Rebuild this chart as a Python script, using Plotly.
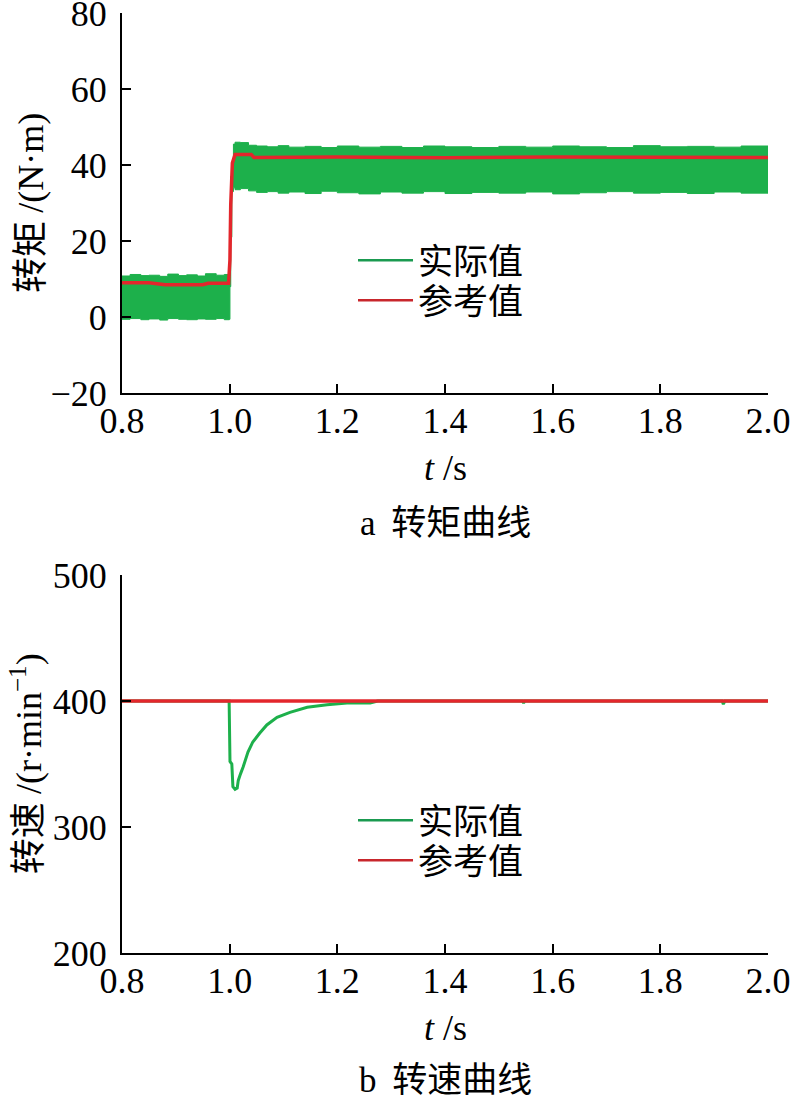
import plotly.graph_objects as go

# ---------------- data ----------------
# Torque: actual value (green noisy band, upper/lower envelope)
t_band = [0.800, 0.815, 0.835, 0.850, 0.870, 0.885, 0.905, 0.920, 0.940, 0.955, 0.975, 0.990, 0.9995,
          1.0005, 1.002, 1.004, 1.007, 1.010, 1.020, 1.035, 1.050, 1.070, 1.090, 1.110, 1.140, 1.170,
          1.200, 1.240, 1.280, 1.320, 1.360, 1.400, 1.450, 1.500, 1.550, 1.600, 1.650, 1.700, 1.750,
          1.800, 1.850, 1.900, 1.950, 2.000]
torque_upper = [10.8, 11.2, 10.9, 11.0, 10.7, 11.3, 10.9, 11.1, 10.8, 11.4, 11.0, 11.2, 10.9,
                28.0, 37.0, 41.0, 45.5, 46.0, 45.9, 45.2, 45.0, 44.8, 45.1, 44.7, 44.9, 44.6,
                45.0, 44.7, 44.9, 44.6, 45.0, 44.8, 44.6, 44.9, 44.7, 45.0, 44.8, 44.6, 45.1,
                44.8, 44.9, 44.7, 45.0, 44.8]
torque_lower = [-0.6, -0.4, -0.7, -0.5, -0.8, -0.4, -0.6, -0.7, -0.5, -0.6, -0.4, -0.7, -0.6,
                8.0, 21.0, 33.0, 34.0, 33.5, 33.8, 33.2, 32.8, 33.0, 32.6, 32.9, 32.5, 33.1,
                32.7, 32.4, 32.9, 32.6, 33.0, 32.5, 32.8, 32.6, 32.9, 32.4, 32.7, 33.0, 32.6,
                32.8, 32.5, 32.9, 32.6, 32.8]

# Torque: reference value (red)
t_ref = [0.800, 0.850, 0.880, 0.950, 0.960, 0.998, 1.0005, 1.002, 1.005, 1.010, 1.040, 1.045,
         1.200, 1.400, 1.600, 1.800, 2.000]
torque_ref = [9.0, 9.0, 8.5, 8.5, 8.9, 8.9, 15.0, 29.5, 40.5, 42.8, 42.8, 42.0,
              42.1, 41.9, 42.1, 42.0, 42.0]

# Speed: actual value (green)
t_speed = [0.800, 0.999, 1.0006, 1.004, 1.006, 1.010, 1.014, 1.016, 1.020, 1.025, 1.034, 1.043,
           1.056, 1.069, 1.088, 1.112, 1.144, 1.181, 1.218, 1.261, 1.275, 1.544, 1.546, 1.548,
           1.915, 1.917, 1.920, 2.000]
speed_actual = [400, 400, 352, 350, 332, 330, 331, 337, 342, 347.6, 359.5, 367.5,
                374.6, 381, 387, 391, 395, 397, 398.4, 398.5, 400, 400, 398.5, 400,
                400, 397.5, 400, 400]

# Speed: reference value (red)
t_speed_ref = [0.800, 2.000]
speed_ref = [400, 400]

x_ticks = [0.8, 1.0, 1.2, 1.4, 1.6, 1.8, 2.0]
torque_ticks = [-20, 0, 20, 40, 60, 80]
speed_ticks = [200, 300, 400, 500]

legend_names = ["实际值", "参考值"]

GREEN = "#1db04b"
RED = "#e3262c"
LEG_GREEN = "#1a9a50"
LEG_RED = "#c8262c"
SERIF = "Liberation Serif"
CJK = "Noto Sans CJK SC"

fig = go.Figure()

# --- top: torque ---
fig.add_trace(go.Scatter(x=t_band, y=torque_lower, mode="lines", line=dict(color=GREEN, width=1, shape="hv"),
                         showlegend=False, xaxis="x", yaxis="y", hoverinfo="skip"))
fig.add_trace(go.Scatter(x=t_band, y=torque_upper, mode="lines", line=dict(color=GREEN, width=1, shape="hv"),
                         fill="tonexty", fillcolor=GREEN, showlegend=False, xaxis="x", yaxis="y"))
fig.add_trace(go.Scatter(x=t_ref, y=torque_ref, mode="lines", line=dict(color=RED, width=3.5),
                         showlegend=False, xaxis="x", yaxis="y"))
fig.add_trace(go.Scatter(x=[None], y=[None], mode="lines", name=legend_names[0],
                         line=dict(color=LEG_GREEN, width=2.5), xaxis="x", yaxis="y", legend="legend"))
fig.add_trace(go.Scatter(x=[None], y=[None], mode="lines", name=legend_names[1],
                         line=dict(color=LEG_RED, width=2.5), xaxis="x", yaxis="y", legend="legend2"))

# --- bottom: speed ---
fig.add_trace(go.Scatter(x=t_speed, y=speed_actual, mode="lines", line=dict(color=GREEN, width=3),
                         showlegend=False, xaxis="x2", yaxis="y2"))
fig.add_trace(go.Scatter(x=t_speed_ref, y=speed_ref, mode="lines", line=dict(color=RED, width=3.5),
                         showlegend=False, xaxis="x2", yaxis="y2"))
fig.add_trace(go.Scatter(x=[None], y=[None], mode="lines", name=legend_names[0],
                         line=dict(color=LEG_GREEN, width=2.5), xaxis="x2", yaxis="y2", legend="legend3"))
fig.add_trace(go.Scatter(x=[None], y=[None], mode="lines", name=legend_names[1],
                         line=dict(color=LEG_RED, width=2.5), xaxis="x2", yaxis="y2", legend="legend4"))

axis_common = dict(showline=True, linecolor="black", linewidth=2, mirror=False, ticks="inside",
                   ticklen=9, tickwidth=1.5, tickcolor="black", showgrid=False, zeroline=False,
                   automargin=False, ticklabeloverflow="allow",
                   tickfont=dict(family=SERIF, size=36, color="black"))
x_common = dict(domain=[0, 1], range=[0.8, 2.0], tickvals=x_ticks, tickformat=".1f", ticklabelstandoff=-5)

legend_common = dict(xanchor="left", yanchor="top", bgcolor="rgba(0,0,0,0)",
                     font=dict(family=CJK, size=35, color="black"), itemwidth=55)
LEG_X = 0.3576

fig.update_layout(
    width=792, height=1096,
    margin=dict(l=122, r=24, t=13, b=143, autoexpand=False),
    paper_bgcolor="white", plot_bgcolor="white",
    xaxis=dict(anchor="y", **x_common, **axis_common),
    yaxis=dict(domain=[0.5957, 1.0], range=[-20, 80], tickvals=torque_ticks, anchor="x",
               ticklabelstandoff=6, **axis_common),
    xaxis2=dict(anchor="y2", **x_common, **axis_common),
    yaxis2=dict(domain=[0.0, 0.4021], range=[200, 500], tickvals=speed_ticks, anchor="x2",
                ticklabelstandoff=6, **axis_common),
    legend=dict(x=LEG_X, y=0.768, **legend_common),
    legend2=dict(x=LEG_X, y=0.7255, **legend_common),
    legend3=dict(x=LEG_X, y=0.1723, **legend_common),
    legend4=dict(x=LEG_X, y=0.1298, **legend_common),
    showlegend=True,
)

ann_font = dict(family=SERIF, size=36, color="black")
cjk_font = dict(family=CJK, size=36, color="black")
cap_font = dict(family=CJK, size=35, color="black")
fig.add_annotation(text="转矩 <span style='font-family:Liberation Serif'>/(N·m)</span>", x=-0.147, y=0.798,
                   xref="paper", yref="paper", textangle=-90,
                   showarrow=False, font=cjk_font, xanchor="center", yanchor="middle")
fig.add_annotation(text="转速 <span style='font-family:Liberation Serif'>/(r·min<sup>−1</sup>)</span>", x=-0.150, y=0.201,
                   xref="paper", yref="paper", textangle=-90,
                   showarrow=False, font=cjk_font, xanchor="center", yanchor="middle")
fig.add_annotation(text="<i>t</i> /s", x=0.5, y=0.516, xref="paper", yref="paper",
                   showarrow=False, font=ann_font, xanchor="center", yanchor="middle")
fig.add_annotation(text="<span style='font-family:Liberation Serif'>a</span>  转矩曲线", x=0.5, y=0.4607,
                   xref="paper", yref="paper",
                   showarrow=False, font=cap_font, xanchor="center", yanchor="middle")
fig.add_annotation(text="<i>t</i> /s", x=0.5, y=-0.0798, xref="paper", yref="paper",
                   showarrow=False, font=ann_font, xanchor="center", yanchor="middle")
fig.add_annotation(text="<span style='font-family:Liberation Serif'>b</span>  转速曲线", x=0.5, y=-0.1309,
                   xref="paper", yref="paper",
                   showarrow=False, font=cap_font, xanchor="center", yanchor="middle")

fig.write_html("out.html", config={"displayModeBar": False},
               post_script="document.body.style.margin='0';document.body.style.overflow='hidden';")
